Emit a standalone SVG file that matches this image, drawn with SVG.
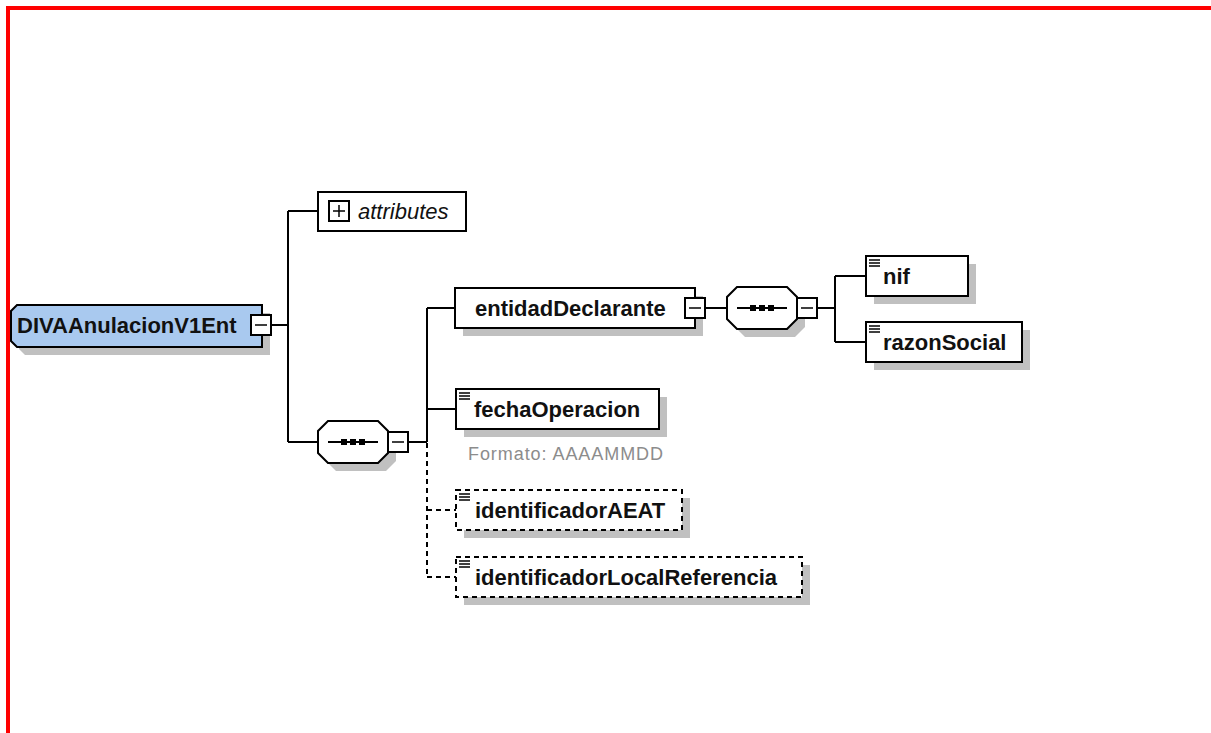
<svg xmlns="http://www.w3.org/2000/svg" xmlns:xlink="http://www.w3.org/1999/xlink" width="1211" height="733" viewBox="0 0 1211 733">
<style>
.box{fill:#fff;stroke:#000;stroke-width:2}
.opt{stroke-dasharray:5,4}
.shadow{fill:#c0c0c0;stroke:none}
.conn{stroke:#000;stroke-width:2;fill:none}
.dash{stroke-dasharray:5,4}
.lbl{font-family:"Liberation Sans",Arial,sans-serif;font-weight:bold;font-size:22px;fill:#111}
.ital{font-family:"Liberation Sans",Arial,sans-serif;font-style:italic;font-size:22px;fill:#111}
.note{font-family:"Liberation Sans",Arial,sans-serif;font-size:18px;fill:#8c8c8c}
.ico{stroke:#000;stroke-width:1.5}
.btn{fill:#fff;stroke:#000;stroke-width:2}
.sig{stroke:#000;stroke-width:1.5}
</style>
<defs>
<g id="icon"><line class="ico" x1="3" y1="4" x2="14" y2="4"/><line class="ico" x1="3" y1="7" x2="14" y2="7"/><line class="ico" x1="3" y1="10" x2="14" y2="10"/></g>
<g id="minus"><rect class="btn" x="0" y="0" width="20" height="20"/><line class="sig" x1="4" y1="10" x2="16" y2="10"/></g>
<g id="plus"><rect class="btn" x="0" y="0" width="20" height="20"/><line class="sig" x1="4" y1="10" x2="16" y2="10"/><line class="sig" x1="10" y1="4" x2="10" y2="16"/></g>
<g id="seq">
<polygon class="shadow" transform="translate(8,8)" points="10,0 60,0 70,10 70,32 60,42 10,42 0,32 0,10"/>
<polygon class="box" points="10,0 60,0 70,10 70,32 60,42 10,42 0,32 0,10"/>
<line x1="10" y1="21" x2="60" y2="21" stroke="#000" stroke-width="2"/>
<rect x="23" y="18" width="6" height="6" fill="#000"/><rect x="32" y="18" width="6" height="6" fill="#000"/><rect x="41" y="18" width="6" height="6" fill="#000"/>
</g>
</defs>
<rect width="1211" height="733" fill="#fff"/>
<g id="frame"><path d="M8,733 V8 H1211" fill="none" stroke="#ff0000" stroke-width="4"/></g>

<g id="connectors">
<path class="conn" d="M272,325 H288 M288,211 V442 M288,211 H318 M288,442 H318"/>
<path class="conn" d="M408,442 H427 M427,308 V442 M427,308 H455 M427,409 H456"/>
<path class="conn dash" d="M427,443 V577 M427,510 H456 M427,577 H456"/>
<path class="conn" d="M705,308 H727 M817,308 H835 M835,276 V342 M835,276 H866 M835,342 H866"/>
</g>

<g id="root">
<polygon class="shadow" points="25,313 270,313 270,355 25,355 19,349 19,319"/>
<polygon points="17,305 262,305 262,347 17,347 11,341 11,311" fill="#a9c9ef" stroke="#000" stroke-width="2"/>
<text class="lbl" x="17" y="333">DIVAAnulacionV1Ent</text>
<use xlink:href="#minus" x="251" y="315"/>
</g>

<g id="attributes">
<rect class="box" x="318" y="192" width="148" height="39"/>
<use xlink:href="#plus" x="329" y="201"/>
<text class="ital" x="358" y="219">attributes</text>
</g>

<g id="sequence1">
<use xlink:href="#seq" x="318" y="421"/>
<use xlink:href="#minus" x="388" y="432"/>
</g>

<g id="entidadDeclarante">
<rect class="shadow" x="463" y="296" width="240" height="40"/>
<rect class="box" x="455" y="288" width="240" height="40"/>
<text class="lbl" x="475" y="316">entidadDeclarante</text>
<use xlink:href="#minus" x="685" y="298"/>
</g>

<g id="sequence2">
<use xlink:href="#seq" x="727" y="287"/>
<use xlink:href="#minus" x="797" y="298"/>
</g>

<g id="nif">
<rect class="shadow" x="874" y="264" width="102" height="40"/>
<rect class="box" x="866" y="256" width="102" height="40"/>
<use xlink:href="#icon" x="866" y="256"/>
<text class="lbl" x="883" y="284">nif</text>
</g>

<g id="razonSocial">
<rect class="shadow" x="874" y="330" width="156" height="40"/>
<rect class="box" x="866" y="322" width="156" height="40"/>
<use xlink:href="#icon" x="866" y="322"/>
<text class="lbl" x="883" y="350">razonSocial</text>
</g>

<g id="fechaOperacion">
<rect class="shadow" x="464" y="397" width="203" height="40"/>
<rect class="box" x="456" y="389" width="203" height="40"/>
<use xlink:href="#icon" x="456" y="389"/>
<text class="lbl" x="474" y="417">fechaOperacion</text>
<text class="note" x="468" y="460" textLength="195">Formato: AAAAMMDD</text>
</g>

<g id="identificadorAEAT">
<rect class="shadow" x="464" y="498" width="226" height="40"/>
<rect class="box opt" x="456" y="490" width="226" height="40"/>
<use xlink:href="#icon" x="456" y="490"/>
<text class="lbl" x="475" y="518">identificadorAEAT</text>
</g>

<g id="identificadorLocalReferencia">
<rect class="shadow" x="464" y="565" width="346" height="40"/>
<rect class="box opt" x="456" y="557" width="346" height="40"/>
<use xlink:href="#icon" x="456" y="557"/>
<text class="lbl" x="475" y="585">identificadorLocalReferencia</text>
</g>
</svg>
